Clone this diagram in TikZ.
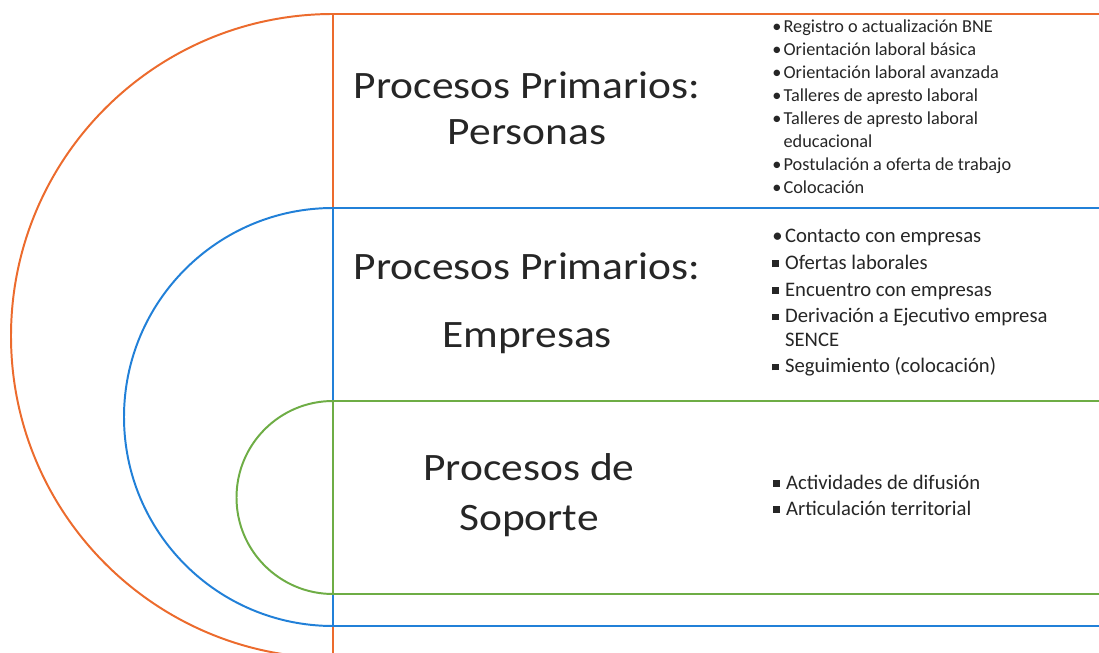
\documentclass[tikz,border=0pt]{standalone}
\usepackage{fontspec}
\setmainfont{Carlito}
\newfontfamily\titlefont[FakeStretch=1.12]{Carlito}
\usepackage{xcolor}
\usepackage{tikz}

\definecolor{procorange}{HTML}{EC6B2D}
\definecolor{procblue}{HTML}{2180D8}
\definecolor{procgreen}{HTML}{6EAD45}
\definecolor{proctext}{HTML}{262626}

\newcommand{\rndbul}{\makebox[0.62em][l]{\textbullet}}
\newcommand{\sqbul}{\makebox[0.62em][l]{\raisebox{0.25ex}{\rule{0.32em}{0.32em}}}}
\newcommand{\nobul}{\makebox[0.62em][l]{}}

\begin{document}
\begin{tikzpicture}[
            x=0.025cm,
            y=0.025cm,
            track/.style={
                draw=#1,
                line width=1.4pt,
                fill=white
  },
  divider/.style={
    #1,
    line width=1.4pt
  },
  title/.style={
    align=center,
    text=proctext,
    inner sep=0pt,
    font=\titlefont\fontsize{27.6}{32.6}\selectfont
  },
  items/.style={
    align=left,
    anchor=west,
    text=proctext,
    inner sep=0pt
  }
]
\useasboundingbox (0,0) rectangle (1099,652);
\clip (0,0) rectangle (1099,652);

% Tracks (outer to inner)
\draw [track=procorange] (1110,638) -- (333,638) arc (90:270:322) -- (1110,-6) -- cycle;
\draw [divider=procorange] (333,638) -- (333,-6);
\draw [track=procblue] (1110,444) -- (333,444) arc (90:270:209) -- (1110,26) -- cycle;
\draw [divider=procblue] (333,444) -- (333,26);
\draw [track=procgreen] (1110,251) -- (333,251) arc (90:270:96.5) -- (1110,58) -- cycle;
\draw [divider=procgreen] (333,251) -- (333,58);

% Titles
\node [title] (personas) at (527,544) {Procesos Primarios:\\Personas};
\node [title] (empresas) at (527,349) {Procesos Primarios:\\[16pt]Empresas};
\node [title] (soporte) at (529,157) {Procesos de\\[3pt]Soporte};

% Lists
\node [items, font=\fontsize{13}{16.4}\selectfont] (listpersonas) at (772,545) {%
\rndbul Registro o actualización BNE\\
\rndbul Orientación laboral básica\\
\rndbul Orientación laboral avanzada\\
\rndbul Talleres de apresto laboral\\
\rndbul Talleres de apresto laboral\\
\nobul educacional\\
\rndbul Postulación a oferta de trabajo\\
\rndbul Colocación};
\node [items, font=\fontsize{14.7}{18.9}\selectfont] (listempresas) at (772,349) {%
\rndbul Contacto con empresas\\
\sqbul Ofertas laborales\\
\sqbul Encuentro con empresas\\
\sqbul Derivación a Ejecutivo empresa\\[-2pt]
\nobul SENCE\\
\sqbul Seguimiento (colocación)};
\node [items, font=\fontsize{14.7}{18.4}\selectfont] (listsoporte) at (773,157) {%
\sqbul Actividades de difusión\\
\sqbul Articulación territorial};

\end{tikzpicture}
\end{document}
